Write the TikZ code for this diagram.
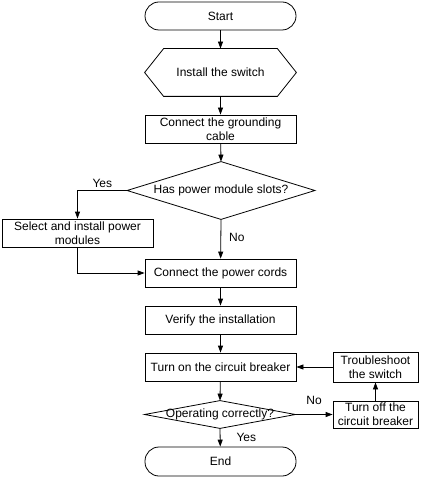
\documentclass[tikz,border=0pt]{standalone}
\usepackage{fontspec}
\setmainfont{Liberation Sans}
\usetikzlibrary{arrows.meta}

\begin{document}
\begin{tikzpicture}[x=1pt, y=1pt, line width=0.8pt, font=\fontsize{12pt}{14pt}\selectfont,
		every node/.style={align=center, inner sep=0pt},
		box/.style={draw, minimum width=151pt, minimum height=28pt},
		term/.style={box, rounded corners=14pt},
		flow/.style={-{Triangle[length=7pt,width=5pt]}}]
		\useasboundingbox (0,0) rectangle (421,-478);
		\node (Start) at (220.5,-16) [term] {Start};
		\node (Install) at (220.5,-72.5) [minimum width=151pt, minimum height=47pt] {Install the switch};
		\draw ([xshift=19pt]Install.north west) -- ([xshift=-19pt]Install.north east) -- (Install.east)
			-- ([xshift=-19pt]Install.south east) -- ([xshift=19pt]Install.south west) -- (Install.west) -- cycle;
		\node (Ground) at (220.5,-129) [box] {Connect the grounding\\cable};
		\node (Slots) at (221,-190.5) [minimum width=187pt, minimum height=57pt] {Has power module slots?};
		\draw (Slots.north) -- (Slots.east) -- (Slots.south) -- (Slots.west) -- cycle;
		\node (Select) at (77.5,-233) [box] {Select and install power\\modules};
		\node (Cords) at (220.5,-273) [box] {Connect the power cords};
		\node (Verify) at (220.5,-320) [box] {Verify the installation};
		\node (On) at (220.5,-367) [box] {Turn on the circuit breaker};
		\node (OK) at (220,-414.5) [minimum width=150pt, minimum height=27pt] {Operating correctly?};
		\draw (OK.north) -- (OK.east) -- (OK.south) -- (OK.west) -- cycle;
		\node (End) at (220.5,-461.5) [term, minimum height=29pt] {End};
		\node (Fix) at (375.5,-367) [box, minimum width=85pt, minimum height=30pt] {Troubleshoot\\the switch};
		\node (Off) at (375.5,-414.5) [box, minimum width=85pt, minimum height=27pt] {Turn off the\\circuit breaker};
		\draw[flow] (Start) -- (Install);
		\draw[flow] (Install) -- (Ground);
		\draw[flow] (Ground) -- (Slots.north);
		\draw[flow] (Slots.west) -| node[pos=0.25, above=2pt] (YesSlots) {Yes} (Select.north);
		\draw[flow] (Slots.south) -- node[pos=0.45, right=8pt] (NoSlots) {No} (Cords);
		\draw[flow] (Select.south) |- (Cords.west);
		\draw[flow] (Cords) -- (Verify);
		\draw[flow] (Verify) -- (On);
		\draw[flow] (On) -- (OK.north);
		\draw[flow] (OK.south) -- node[right=16pt] (YesOK) {Yes} (End);
		\draw[flow] (OK.east) -- node[above=9pt] (NoOK) {No} (Off);
		\draw[flow] (Off) -- (Fix);
		\draw[flow] (Fix) -- (On);
\end{tikzpicture}
\end{document}
